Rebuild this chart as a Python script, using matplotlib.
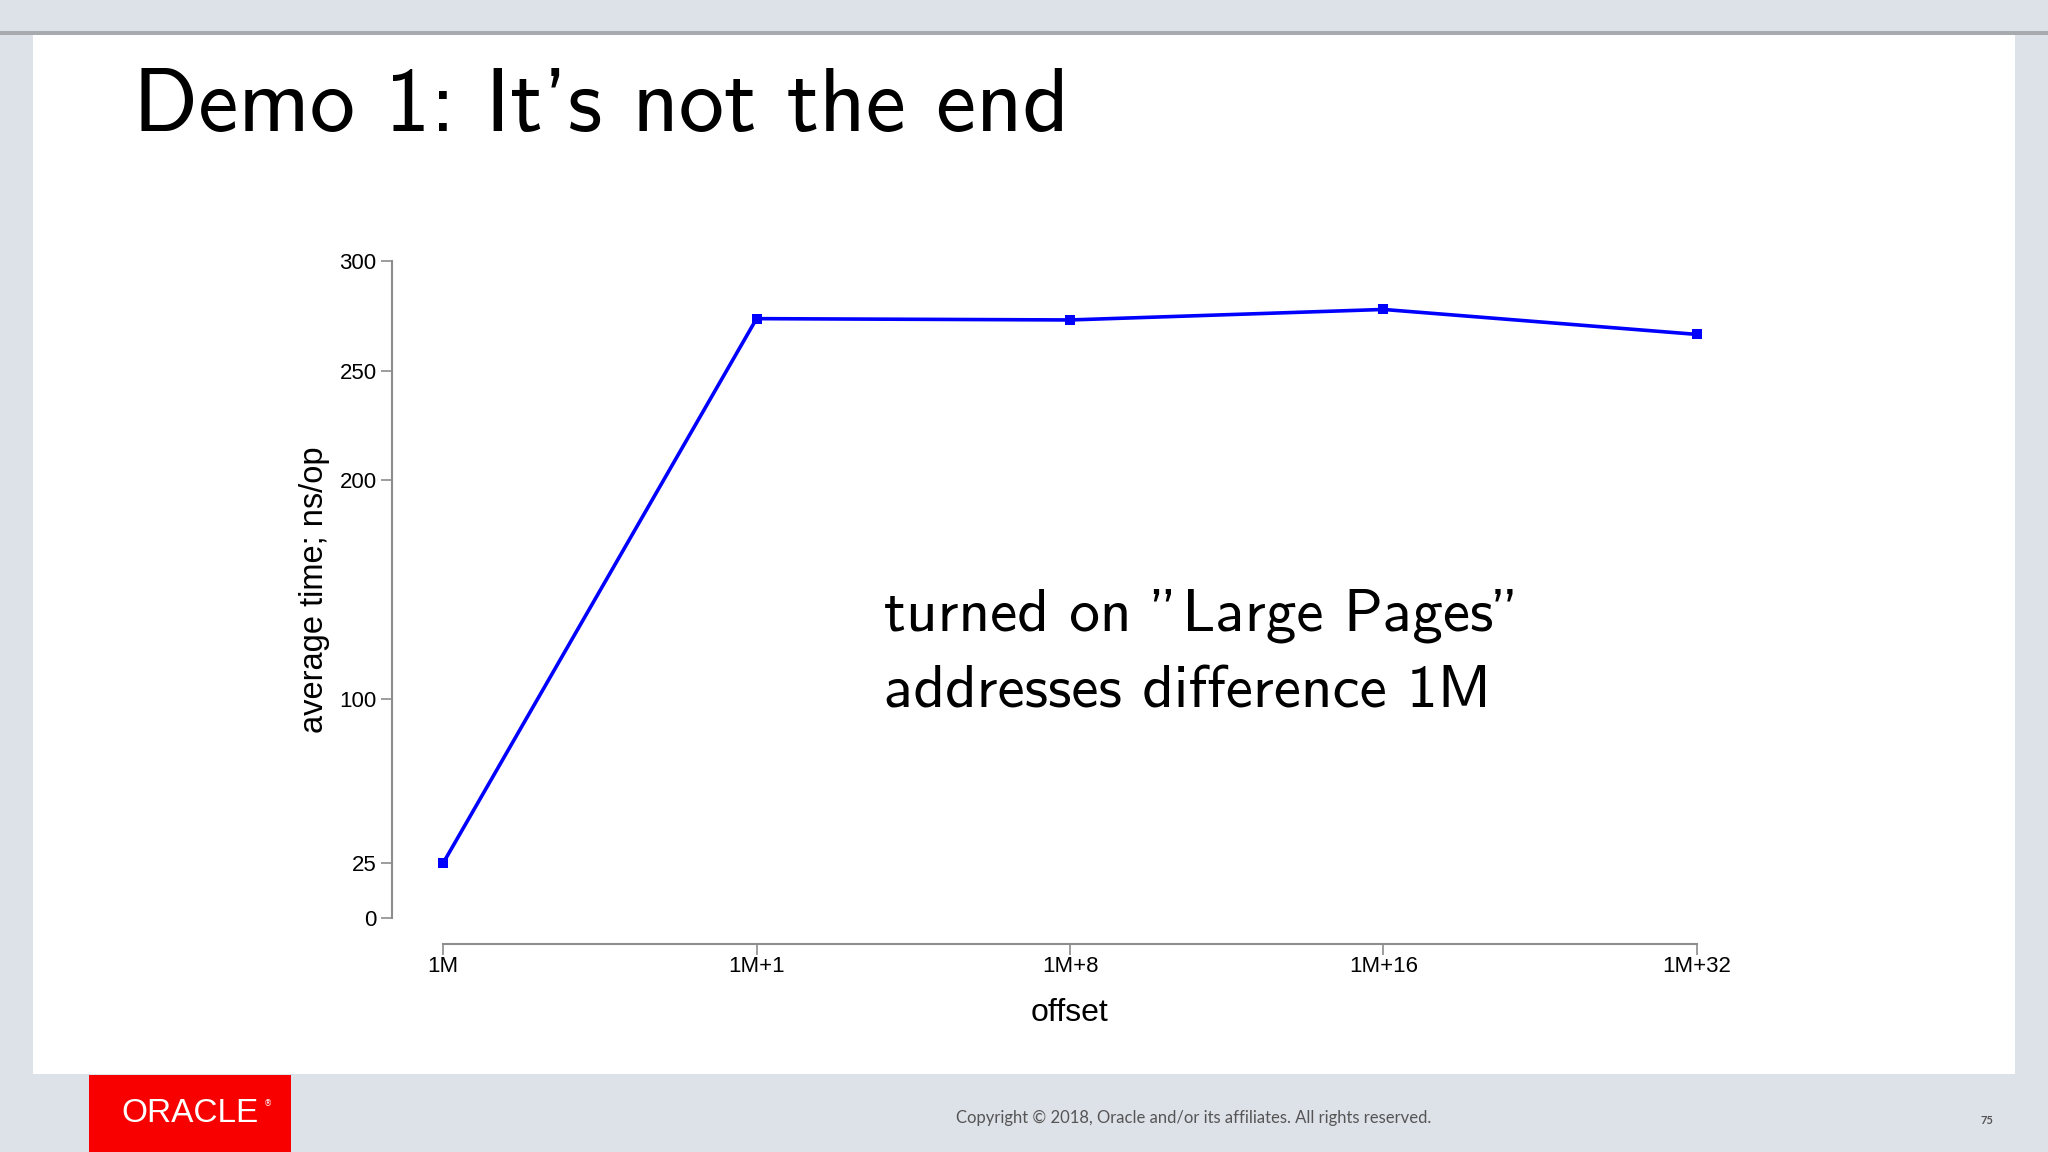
import numpy as np
import matplotlib
matplotlib.use("Agg")
import matplotlib.pyplot as plt
from matplotlib.patches import Rectangle

# data
offsets = ["1M", "1M+1", "1M+8", "1M+16", "1M+32"]
avg_time = [25, 273.7, 273.1, 277.9, 266.5]
y_ticks = [0, 25, 100, 200, 250, 300]

W, H = 2048, 1152
fig = plt.figure(figsize=(W / 100, H / 100), dpi=100)
fig.patch.set_facecolor("#dde1e8")

# slide furniture, drawn in pixel coords
bg = fig.add_axes([0, 0, 1, 1])
bg.set_xlim(0, W)
bg.set_ylim(H, 0)
bg.axis("off")
bg.add_patch(Rectangle((0, 31), W, 4, color="#a7aaae", lw=0))
bg.add_patch(Rectangle((33, 35), 1982, 1039, color="white", lw=0))
bg.add_patch(Rectangle((89, 1075), 202, 77, color="#f80000", lw=0))

bg.text(133, 131, "Demo 1: It's not the end", family=["cmss10", "DejaVu Sans"],
        fontsize=65, color="black", va="baseline", ha="left")
bg.text(884, 616, 'turned on "Large Pages"', family=["cmss10", "DejaVu Sans"],
        fontsize=44, va="center", ha="left")
bg.text(884, 692, "addresses difference 1M", family=["cmss10", "DejaVu Sans"],
        fontsize=44, va="center", ha="left")
bg.text(190, 1113, "ORACLE", family="Liberation Sans", fontsize=24,
        color="white", ha="center", va="center")
bg.text(268, 1104, "®", family="DejaVu Sans", fontsize=6, color="white",
        ha="center", va="center")
bg.text(1194, 1118, "Copyright © 2018, Oracle and/or its affiliates. All rights reserved.",
        family="Lato", fontsize=12, color="#555555", ha="center", va="center")
bg.text(1987, 1120, "75", family="Lato", fontsize=8, weight="bold",
        color="#555555", ha="center", va="center")

# the chart itself
ax = fig.add_axes([392 / W, 1 - 944 / H, (1748 - 392) / W, (944 - 235) / H])
ax.set_facecolor("none")
x = np.arange(len(offsets))
ax.plot(x, avg_time, color="#0000ff", linewidth=2.6, marker="s",
        markersize=7, markeredgewidth=0)
ax.set_xlim(-0.163, 4.163)
ax.set_ylim(-11.9, 311.9)

ax.set_xticks(x)
ax.set_xticklabels(offsets)
ax.set_yticks(y_ticks)
ax.set_yticklabels([str(t) for t in y_ticks])

for side in ["top", "right"]:
    ax.spines[side].set_visible(False)
for side in ["left", "bottom"]:
    ax.spines[side].set_color("#8c8c8c")
    ax.spines[side].set_linewidth(1.5)
ax.spines["left"].set_bounds(0, 300)
ax.spines["bottom"].set_bounds(0, 4)
ax.tick_params(axis="both", direction="out", length=8, width=1.2,
               color="#8c8c8c", labelsize=16)
ax.tick_params(axis="x", pad=1)
ax.tick_params(axis="y", pad=3)
for lab in ax.get_xticklabels() + ax.get_yticklabels():
    lab.set_family("Liberation Sans")

ax.set_xlabel("offset", family="Liberation Sans", fontsize=23, labelpad=15)
ax.set_ylabel("average time; ns/op", family="Liberation Sans", fontsize=23.5,
              labelpad=7)

fig.savefig("out.png", dpi=100)
